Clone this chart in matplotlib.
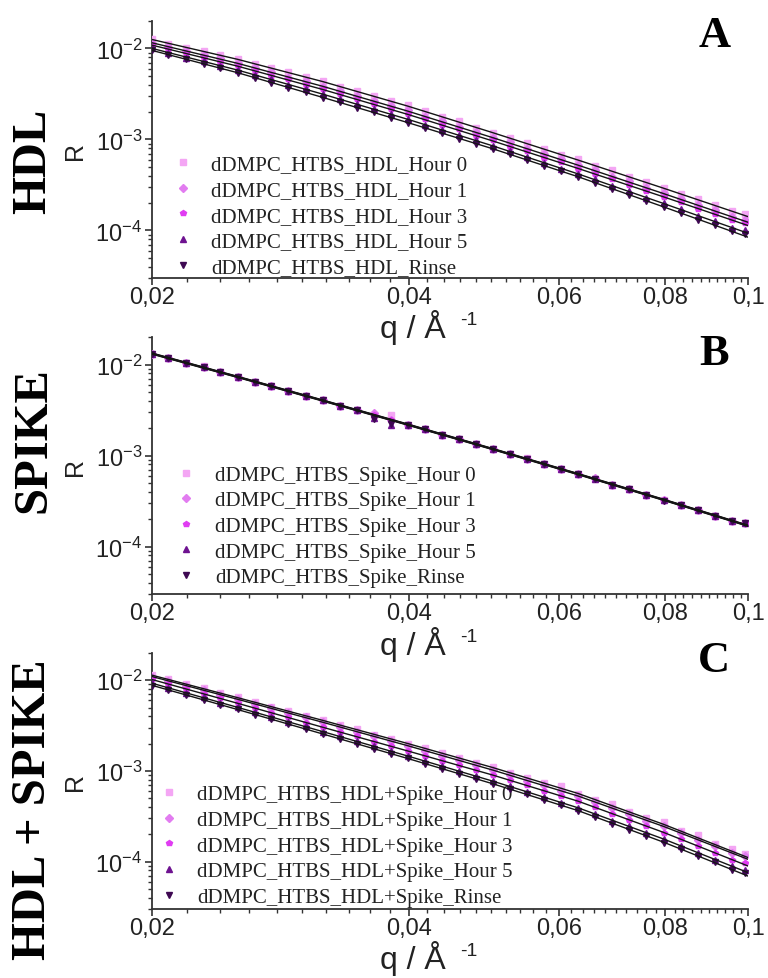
import matplotlib.pyplot as plt
import numpy as np
from matplotlib.ticker import FixedLocator, NullFormatter, LogLocator

plt.rcParams['font.family'] = ['Liberation Sans', 'DejaVu Sans']
plt.rcParams['mathtext.fontset'] = 'custom'
plt.rcParams['mathtext.rm'] = 'Liberation Sans'
plt.rcParams['mathtext.default'] = 'regular'

# q grid of the data points (1/A)
q = [0.0200, 0.0209, 0.0219, 0.0230, 0.0240, 0.0252, 0.0264, 0.0276, 0.0289, 0.0303,
     0.0317, 0.0332, 0.0348, 0.0364, 0.0381, 0.0399, 0.0418, 0.0438, 0.0458, 0.0480,
     0.0502, 0.0526, 0.0551, 0.0577, 0.0604, 0.0632, 0.0662, 0.0693, 0.0726, 0.0760,
     0.0796, 0.0834, 0.0873, 0.0914, 0.0957, 0.0991]
# q knots of the fitted curves
q_fit = [0.0200, 0.0252, 0.0317, 0.0399, 0.0502, 0.0632, 0.0796, 0.1002]

# log10(R)
hdl_h0 = [-1.90, -1.95, -1.99, -2.03, -2.07, -2.12, -2.17, -2.21, -2.26, -2.31, -2.36, -2.42, -2.47, -2.52, -2.58, -2.62, -2.69, -2.75, -2.80, -2.87, -2.93, -2.98, -3.04, -3.11, -3.17, -3.22, -3.29, -3.34, -3.41, -3.47, -3.53, -3.60, -3.66, -3.72, -3.79, -3.82]
hdl_h1 = [-1.94, -1.98, -2.03, -2.07, -2.11, -2.16, -2.21, -2.26, -2.32, -2.36, -2.42, -2.47, -2.52, -2.58, -2.63, -2.68, -2.75, -2.80, -2.86, -2.92, -2.98, -3.03, -3.10, -3.16, -3.21, -3.28, -3.34, -3.41, -3.46, -3.53, -3.59, -3.66, -3.72, -3.78, -3.85, -3.88]
hdl_h3 = [-1.96, -2.01, -2.05, -2.10, -2.15, -2.19, -2.25, -2.30, -2.34, -2.40, -2.45, -2.50, -2.56, -2.61, -2.67, -2.72, -2.78, -2.84, -2.89, -2.96, -3.01, -3.08, -3.13, -3.20, -3.25, -3.32, -3.38, -3.44, -3.50, -3.57, -3.63, -3.69, -3.76, -3.82, -3.88, -3.92]
hdl_h5 = [-2.00, -2.05, -2.10, -2.14, -2.19, -2.24, -2.29, -2.34, -2.40, -2.45, -2.50, -2.56, -2.61, -2.67, -2.72, -2.78, -2.84, -2.90, -2.95, -3.01, -3.07, -3.13, -3.19, -3.26, -3.32, -3.38, -3.44, -3.51, -3.57, -3.64, -3.70, -3.77, -3.84, -3.90, -3.97, -4.00]
hdl_rn = [-2.02, -2.07, -2.12, -2.17, -2.22, -2.27, -2.32, -2.38, -2.43, -2.48, -2.54, -2.59, -2.65, -2.70, -2.76, -2.82, -2.87, -2.93, -2.99, -3.05, -3.10, -3.16, -3.23, -3.29, -3.35, -3.41, -3.48, -3.54, -3.61, -3.68, -3.74, -3.81, -3.88, -3.94, -4.01, -4.04]

spk_h0 = [-1.88, -1.93, -1.98, -2.02, -2.08, -2.14, -2.19, -2.24, -2.29, -2.34, -2.39, -2.45, -2.50, -2.55, -2.55, -2.66, -2.71, -2.77, -2.82, -2.87, -2.93, -2.98, -3.03, -3.09, -3.15, -3.20, -3.26, -3.32, -3.37, -3.43, -3.49, -3.54, -3.60, -3.66, -3.72, -3.74]
spk_h1 = [-1.88, -1.93, -1.98, -2.03, -2.08, -2.14, -2.19, -2.24, -2.29, -2.34, -2.39, -2.45, -2.50, -2.53, -2.61, -2.66, -2.71, -2.77, -2.82, -2.87, -2.93, -2.98, -3.04, -3.09, -3.15, -3.20, -3.25, -3.32, -3.37, -3.43, -3.49, -3.54, -3.60, -3.66, -3.72, -3.74]
spk_h3 = [-1.88, -1.93, -1.98, -2.03, -2.08, -2.14, -2.19, -2.24, -2.29, -2.35, -2.39, -2.45, -2.50, -2.55, -2.61, -2.66, -2.71, -2.77, -2.82, -2.87, -2.93, -2.98, -3.04, -3.09, -3.15, -3.20, -3.26, -3.32, -3.37, -3.43, -3.49, -3.54, -3.60, -3.66, -3.72, -3.74]
spk_h5 = [-1.88, -1.93, -1.98, -2.03, -2.08, -2.14, -2.19, -2.24, -2.29, -2.34, -2.39, -2.45, -2.50, -2.59, -2.66, -2.66, -2.71, -2.77, -2.82, -2.87, -2.93, -2.98, -3.04, -3.09, -3.15, -3.20, -3.26, -3.32, -3.37, -3.43, -3.49, -3.54, -3.60, -3.66, -3.72, -3.74]
spk_rn = [-1.88, -1.93, -1.98, -2.03, -2.08, -2.14, -2.19, -2.24, -2.29, -2.34, -2.39, -2.45, -2.50, -2.60, -2.65, -2.66, -2.71, -2.77, -2.82, -2.87, -2.93, -2.98, -3.04, -3.09, -3.15, -3.20, -3.26, -3.32, -3.37, -3.43, -3.50, -3.54, -3.60, -3.66, -3.72, -3.74]

cmb_h0 = [-1.94, -1.99, -2.04, -2.09, -2.14, -2.19, -2.24, -2.29, -2.34, -2.39, -2.44, -2.49, -2.54, -2.60, -2.65, -2.70, -2.75, -2.80, -2.86, -2.91, -2.96, -3.02, -3.08, -3.13, -3.17, -3.25, -3.32, -3.36, -3.45, -3.52, -3.56, -3.66, -3.71, -3.81, -3.86, -3.92]
cmb_h1 = [-1.96, -2.01, -2.06, -2.11, -2.16, -2.21, -2.26, -2.31, -2.36, -2.41, -2.46, -2.52, -2.57, -2.62, -2.67, -2.72, -2.78, -2.83, -2.88, -2.94, -2.99, -3.05, -3.11, -3.16, -3.22, -3.28, -3.34, -3.41, -3.48, -3.55, -3.61, -3.69, -3.76, -3.83, -3.91, -3.94]
cmb_h3 = [-1.99, -2.04, -2.10, -2.15, -2.20, -2.25, -2.31, -2.36, -2.41, -2.47, -2.52, -2.57, -2.62, -2.68, -2.73, -2.78, -2.83, -2.89, -2.94, -2.99, -3.05, -3.10, -3.16, -3.22, -3.28, -3.33, -3.40, -3.47, -3.54, -3.61, -3.68, -3.75, -3.83, -3.90, -3.98, -4.02]
cmb_h5 = [-2.03, -2.09, -2.14, -2.19, -2.25, -2.30, -2.35, -2.41, -2.46, -2.51, -2.57, -2.62, -2.67, -2.73, -2.78, -2.84, -2.89, -2.95, -3.00, -3.06, -3.11, -3.17, -3.23, -3.29, -3.35, -3.41, -3.48, -3.55, -3.61, -3.68, -3.75, -3.83, -3.90, -3.98, -4.05, -4.09]
cmb_rn = [-2.06, -2.11, -2.16, -2.22, -2.27, -2.32, -2.38, -2.43, -2.48, -2.54, -2.59, -2.65, -2.70, -2.76, -2.81, -2.86, -2.92, -2.98, -3.03, -3.09, -3.14, -3.20, -3.26, -3.32, -3.38, -3.44, -3.51, -3.58, -3.65, -3.72, -3.79, -3.86, -3.94, -4.01, -4.09, -4.13]

# fitted curves, log10(R) at q_fit
hdl_h0_fit = [-1.902, -2.120, -2.364, -2.634, -2.926, -3.227, -3.536, -3.851]
hdl_h1_fit = [-1.938, -2.164, -2.416, -2.689, -2.981, -3.283, -3.595, -3.913]
hdl_h3_fit = [-1.964, -2.195, -2.451, -2.725, -3.017, -3.319, -3.631, -3.949]
hdl_h5_fit = [-2.000, -2.238, -2.502, -2.779, -3.071, -3.379, -3.704, -4.034]
hdl_rn_fit = [-2.022, -2.267, -2.538, -2.815, -3.103, -3.410, -3.741, -4.077]

spk_h0_fit = [-1.873, -2.129, -2.388, -2.653, -2.922, -3.197, -3.479, -3.767]
spk_h1_fit = [-1.876, -2.132, -2.391, -2.656, -2.925, -3.200, -3.482, -3.770]
spk_h3_fit = [-1.879, -2.135, -2.394, -2.659, -2.928, -3.203, -3.485, -3.773]
spk_h5_fit = [-1.882, -2.138, -2.397, -2.662, -2.931, -3.206, -3.488, -3.776]
spk_rn_fit = [-1.885, -2.141, -2.400, -2.665, -2.934, -3.209, -3.491, -3.779]

cmb_h0_fit = [-1.944, -2.192, -2.442, -2.698, -2.963, -3.249, -3.589, -3.959]
cmb_h1_fit = [-1.959, -2.210, -2.463, -2.722, -2.991, -3.277, -3.612, -3.978]
cmb_h3_fit = [-1.992, -2.254, -2.518, -2.780, -3.046, -3.334, -3.678, -4.052]
cmb_h5_fit = [-2.033, -2.299, -2.566, -2.836, -3.113, -3.407, -3.751, -4.125]
cmb_rn_fit = [-2.056, -2.323, -2.592, -2.863, -3.142, -3.438, -3.786, -4.163]

times = ['Hour 0', 'Hour 1', 'Hour 3', 'Hour 5', 'Rinse']
colors = ['#f4a6f4', '#e27cf0', '#e03cf2', '#6e1290', '#3e0852']
markers = ['s', 'D', 'p', '^', 'v']

panels = [
    ('HDL', 'A', 'dDMPC_HTBS_HDL_',
     [hdl_h0, hdl_h1, hdl_h3, hdl_h5, hdl_rn],
     [hdl_h0_fit, hdl_h1_fit, hdl_h3_fit, hdl_h5_fit, hdl_rn_fit]),
    ('SPIKE', 'B', 'dDMPC_HTBS_Spike_',
     [spk_h0, spk_h1, spk_h3, spk_h5, spk_rn],
     [spk_h0_fit, spk_h1_fit, spk_h3_fit, spk_h5_fit, spk_rn_fit]),
    ('HDL + SPIKE', 'C', 'dDMPC_HTBS_HDL+Spike_',
     [cmb_h0, cmb_h1, cmb_h3, cmb_h5, cmb_rn],
     [cmb_h0_fit, cmb_h1_fit, cmb_h3_fit, cmb_h5_fit, cmb_rn_fit]),
]

boxes = [[0.198, 0.715, 0.776, 0.2625],
         [0.198, 0.392, 0.776, 0.2625],
         [0.198, 0.0705, 0.776, 0.2615]]
leg_anchor = [(0.0346, 0.004), (0.0396, 0.027), (0.0111, 0.008)]
leg_pad = [0.84, 0.89, 0.84]
side_y = [0.835, 0.551, 0.173]
letter_y = [0.963, 0.638, 0.325]

xmajor = [0.02, 0.04, 0.06, 0.08, 0.1]
xmajor_labels = ['0,02', '0,04', '0,06', '0,08', '0,1']
xminor = [round(0.02 + 0.002 * i, 3) for i in range(41)]

fig = plt.figure(figsize=(7.68, 9.79), dpi=100)

for i, (side, letter, prefix, data, fits) in enumerate(panels):
    ax = fig.add_axes(boxes[i])
    ax.set_facecolor('none')
    for j in range(5):
        ax.plot(q, 10 ** np.array(data[j]), ls='none', marker=markers[j], ms=4.2,
                color=colors[j], mec=colors[j], label=prefix + times[j], zorder=3)
    for j in range(5):
        ax.plot(q_fit, 10 ** np.array(fits[j]), color='#151515', lw=1.0, zorder=4)

    ax.set_xscale('log')
    ax.set_yscale('log')
    ax.set_xlim(0.02, 0.1)
    ax.set_ylim(3e-5, 2e-2)

    ax.xaxis.set_major_locator(FixedLocator(xmajor))
    ax.set_xticklabels(xmajor_labels)
    ax.xaxis.set_minor_locator(FixedLocator([v for v in xminor if v not in xmajor]))
    ax.xaxis.set_minor_formatter(NullFormatter())
    ax.yaxis.set_major_locator(LogLocator(base=10))
    ax.yaxis.set_minor_locator(LogLocator(base=10, subs=np.arange(2, 10)))
    ax.yaxis.set_minor_formatter(NullFormatter())

    for s in ['top', 'right']:
        ax.spines[s].set_visible(False)
    for s in ['left', 'bottom']:
        ax.spines[s].set_linewidth(1.3)
        ax.spines[s].set_color('#333333')
    ax.tick_params(which='major', direction='out', length=5, width=1.2,
                   labelsize=17, colors='#333333', labelcolor='#222222')
    ax.tick_params(which='minor', direction='out', length=3, width=1.0, colors='#333333')
    ax.tick_params(axis='x', which='major', pad=0.5)
    ax.tick_params(axis='y', which='major', pad=2)

    ax.set_xlabel('q / Å', fontsize=23, color='#222222', va='center')
    ax.xaxis.set_label_coords(0.437, -0.19)
    ax.text(0.531, -0.163, '-1', transform=ax.transAxes, fontsize=14,
            color='#222222', ha='center', va='center')
    ax.set_ylabel('R', fontsize=18, color='#222222', va='center')
    ax.yaxis.set_label_coords(-0.129, 0.5)

    leg = ax.legend(loc='lower left', bbox_to_anchor=leg_anchor[i], frameon=False,
                    prop={'family': 'Liberation Serif', 'size': 15},
                    borderpad=0, borderaxespad=0, handlelength=1.0,
                    handletextpad=leg_pad[i], labelspacing=0.29)
    leg.set_zorder(1)
    for t in leg.get_texts():
        t.set_color('#222222')

    fig.text(0.043, side_y[i], side, rotation=90, ha='center', va='center',
             family='Liberation Serif', fontweight='bold', fontsize=35)
    fig.text(0.930, letter_y[i], letter, ha='center', va='center',
             family='Liberation Serif', fontweight='bold', fontsize=32)

fig.savefig('out.png', dpi=100)
